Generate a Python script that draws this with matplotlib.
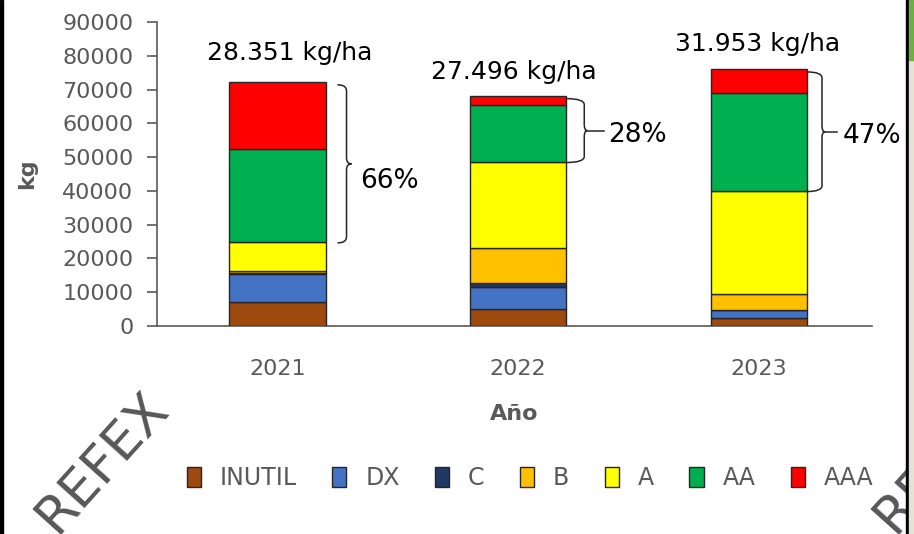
import numpy as np
import matplotlib
matplotlib.use('Agg')
import matplotlib.pyplot as plt
from matplotlib.path import Path
from matplotlib.patches import PathPatch, Rectangle
plt.rcParams['font.family'] = 'DejaVu Sans'

# data (kg)
years = ['2021', '2022', '2023']
inutil = [7100, 4900, 2500]
dx = [8300, 6700, 2100]
c = [200, 1200, 200]
b = [800, 10200, 4600]
a = [8500, 25700, 30700]
aa = [27400, 16700, 28800]
aaa = [20000, 2800, 7200]
yield_labels = ['28.351 kg/ha', '27.496 kg/ha', '31.953 kg/ha']
pct_labels = ['66%', '28%', '47%']

series = [('INUTIL', inutil, '#9C4A0E'), ('DX', dx, '#4472C4'), ('C', c, '#203864'),
          ('B', b, '#FFC000'), ('A', a, '#FFFF00'), ('AA', aa, '#00B050'),
          ('AAA', aaa, '#FF0000')]

W, H = 914, 534
fig = plt.figure(figsize=(W / 100, H / 100), dpi=100)
ax = fig.add_axes([157 / W, 208 / H, (872 - 157) / W, (326 - 22) / H])

x = np.arange(len(years))
bottom = np.zeros(len(years))
for name, vals, col in series:
    ax.bar(x, vals, 0.4, bottom=bottom, color=col, edgecolor='#262626',
           linewidth=1, label=name, zorder=3)
    bottom += np.array(vals)
totals = bottom.copy()
base_top = totals - np.array(aa) - np.array(aaa)

ax.set_xlim(-0.5, 2.47)
ax.set_ylim(0, 90000)
ax.set_yticks(np.arange(0, 90001, 10000))
ax.set_xticks(x)
ax.set_xticklabels(years)
gray = '#595959'
for s in ['top', 'right']:
    ax.spines[s].set_visible(False)
for s in ['left', 'bottom']:
    ax.spines[s].set_color(gray)
    ax.spines[s].set_linewidth(1.2)
ax.tick_params(axis='y', length=7, width=1.2, color=gray, labelcolor=gray,
               labelsize=16, pad=10)
ax.tick_params(axis='x', length=0, labelcolor=gray, labelsize=16, pad=24)
ax.set_ylabel('kg', fontsize=16, fontweight='bold', color=gray, labelpad=18)
ax.set_xlabel('Año', fontsize=16, fontweight='bold', color=gray, labelpad=18)

# pixel -> data conversion
axw = (872 - 157) / (2.47 + 0.5)
axh = (326 - 22) / 90000

# totals above bars
txt_off = [(12, 29), (-4, 24), (-1, 25)]
for i in range(3):
    ax.annotate(yield_labels[i], (x[i], totals[i]), xytext=txt_off[i],
                textcoords='offset pixels', ha='center', va='center',
                fontsize=18, color='black')

# braces: start, vertical, tip, dash end (pixels right of bar edge)
brace_px = [(12, 21, 26, 26), (0, 18, 21, 38), (0, 15, 18, 30)]
pct_off = [(9, -17), (4, -4), (6, -4)]
for i in range(3):
    xe = x[i] + 0.2
    xs, xv, xt, xd = [xe + p / axw for p in brace_px[i]]
    yt = totals[i] - 3 / axh
    yb = base_top[i] - 1 / axh
    ym = (yt + yb) / 2
    r = 6 / axh
    verts = [(xs, yt), (xv, yt), (xv, yt - r), (xv, ym + r), (xv, ym), (xt, ym),
             (xv, ym), (xv, ym - r), (xv, yb + r), (xv, yb), (xs, yb)]
    codes = [Path.MOVETO, Path.CURVE3, Path.CURVE3, Path.LINETO, Path.CURVE3,
             Path.CURVE3, Path.CURVE3, Path.CURVE3, Path.LINETO, Path.CURVE3,
             Path.CURVE3]
    ax.add_patch(PathPatch(Path(verts, codes), fill=False, edgecolor='#262626',
                           linewidth=1.1, zorder=4, clip_on=False))
    if xd > xt:
        ax.plot([xt, xd], [ym, ym], color='#262626', lw=1.1, clip_on=False)
    ax.annotate(pct_labels[i], (xd, ym), xytext=pct_off[i],
                textcoords='offset pixels', ha='left', va='center',
                fontsize=19, color='black')

leg = fig.legend(loc='center', bbox_to_anchor=(530 / W, 1 - 478 / H), ncol=7,
                 frameon=False, fontsize=17, handlelength=0.6, handleheight=0.9,
                 handletextpad=0.8, columnspacing=1.5)
for t in leg.get_texts():
    t.set_color(gray)

# watermark
for wx in [102, 940]:
    fig.text(wx / W, 1 - 462 / H, 'REFEX', rotation=48, fontsize=38,
             color='#3a3a3a', alpha=0.85, ha='center', va='center', zorder=1)

# frame edges
fig.patches.append(Rectangle((0, 0), 3 / W, 1, transform=fig.transFigure,
                             color='black', zorder=10))
fig.patches.append(Rectangle((906 / W, 0), 3 / W, 1, transform=fig.transFigure,
                             color='black', zorder=10))
fig.patches.append(Rectangle((909 / W, 0), 5 / W, 1 - 60 / H, transform=fig.transFigure,
                             color='#E6E0D5', zorder=10))
fig.patches.append(Rectangle((909 / W, 1 - 60 / H), 5 / W, 60 / H, transform=fig.transFigure,
                             color='#70AD47', zorder=10))

fig.savefig('out.png', dpi=100)
